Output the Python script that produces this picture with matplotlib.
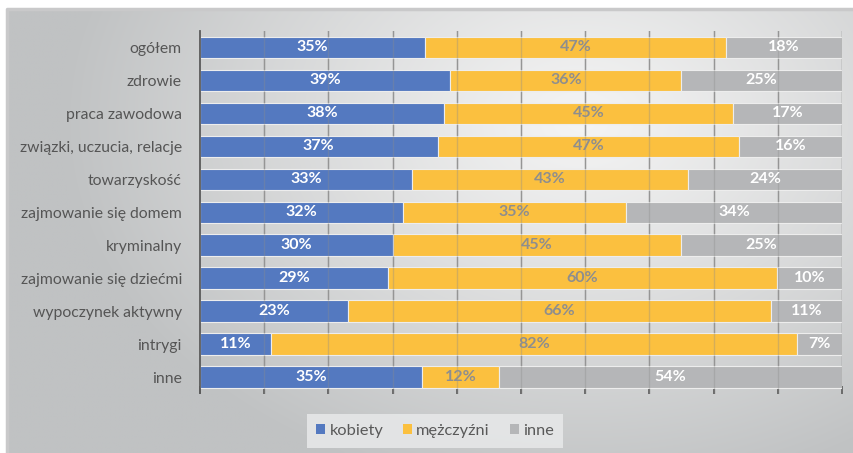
import numpy as np
import matplotlib
matplotlib.use("Agg")
import matplotlib.pyplot as plt
from matplotlib.patches import Patch

plt.rcParams['font.family'] = ['Lato', 'DejaVu Sans']

categories = ["ogółem", "zdrowie", "praca zawodowa", "związki, uczucia, relacje",
              "towarzyskość", "zajmowanie się domem", "kryminalny",
              "zajmowanie się dziećmi", "wypoczynek aktywny", "intrygi", "inne"]
kobiety = [35, 39, 38, 37, 33, 32, 30, 29, 23, 11, 35]
mezczyzni = [47, 36, 45, 47, 43, 35, 45, 60, 66, 82, 12]
inne = [18, 25, 17, 16, 24, 34, 25, 10, 11, 7, 54]
series_names = ["kobiety", "mężczyźni", "inne"]
colors = ["#5479C0", "#FBC03F", "#B5B6B8"]
label_colors = ["white", "#8E8E8E", "white"]

W, H = 854, 453
fig = plt.figure(figsize=(W / 100, H / 100), dpi=100)
fig.patch.set_facecolor("white")

# background frame with gradient
bx0, by_top = 7, 9
bg = fig.add_axes([bx0 / W, 0, 1 - bx0 / W, 1 - by_top / H], zorder=-10)
ny, nx = 200, 400
yy, xx = np.mgrid[0:ny, 0:nx]
px = xx / nx * (W - bx0) + bx0
py = yy / ny * (H - by_top) + by_top
cx, cy = 580, 120
d = np.sqrt(((px - cx) / 520) ** 2 + ((py - cy) / 380) ** 2)
t = np.clip(d, 0, 1) ** 1.1
c0 = np.array([0xF4, 0xF4, 0xF4]) / 255
c1 = np.array([0xC0, 0xC2, 0xC3]) / 255
img = c0[None, None, :] * (1 - t[..., None]) + c1[None, None, :] * t[..., None]
bg.imshow(img, aspect="auto", extent=[0, 1, 0, 1], interpolation="bilinear")
bg.set_xlim(0, 1)
bg.set_ylim(0, 1)
bg.axis("off")
bg.plot([0, 0, 1], [0, 1, 1], color="#C9C9CA", lw=2.5, transform=bg.transAxes, clip_on=False)

# main axes
ax_left, ax_right = 200 / W, 842 / W
ax_top, ax_bottom = 1 - 31 / H, 1 - 393.5 / H
ax = fig.add_axes([ax_left, ax_bottom, ax_right - ax_left, ax_top - ax_bottom])
ax.set_facecolor("none")

data = np.array([kobiety, mezczyzni, inne], dtype=float)
totals = data.sum(axis=0)
frac = data / totals * 100
y = np.arange(len(categories))
left = np.zeros(len(categories))
for i in range(3):
    ax.barh(y, frac[i], left=left, height=0.65, color=colors[i],
            edgecolor="#EDEDED", linewidth=0.8, zorder=2)
    for j in range(len(categories)):
        ax.text(left[j] + frac[i][j] / 2, y[j], f"{int(data[i][j])}%",
                ha="center", va="center", color=label_colors[i],
                fontsize=11.5, fontweight="bold", zorder=4)
    left += frac[i]

ax.set_xlim(0, 100)
ax.set_ylim(len(categories) - 0.5, -0.5)
ax.set_yticks(y)
ax.set_yticklabels(categories, fontsize=11.3, color="#555555")
ax.set_xticks(np.arange(0, 101, 10))
ax.set_xticklabels([])
ax.tick_params(axis="y", length=0, pad=13)
ax.tick_params(axis="x", direction="in", length=6, width=1.2, color="#5A5A5A")
for xv in np.arange(10, 101, 10):
    ax.axvline(xv, color="#8C8C8C", lw=1.0, zorder=3, alpha=0.35)
    ax.axvline(xv, color="#9A9A9A", lw=1.0, zorder=1)
for s in ["top", "right", "bottom"]:
    ax.spines[s].set_visible(False)
ax.spines["left"].set_color("#5A5A5A")
ax.spines["left"].set_linewidth(1.3)
ax.spines["left"].set_zorder(5)

handles = [Patch(facecolor=c, edgecolor="none") for c in colors]
leg = fig.legend(handles, series_names, loc="center", ncol=3,
                 bbox_to_anchor=(435 / W, 1 - 431 / H), frameon=True,
                 fontsize=11.8, handlelength=0.55, handleheight=0.55,
                 handletextpad=0.25, columnspacing=1.2, borderpad=0.6,
                 fancybox=False, labelcolor="#595959")
leg.get_frame().set_facecolor("#E6E7E8")
leg.get_frame().set_edgecolor("none")
leg.get_frame().set_alpha(0.9)

fig.savefig("out.png", dpi=100)
